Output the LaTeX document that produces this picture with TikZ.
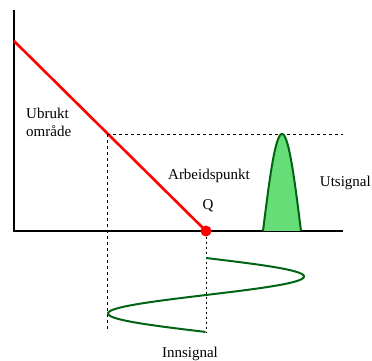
\documentclass[tikz,border=0pt]{standalone}
\usepackage{fontspec}
\setmainfont{Liberation Serif}
\usetikzlibrary{positioning,calc}
\definecolor{sigdark}{RGB}{0,100,20}
\definecolor{sigfill}{RGB}{102,221,119}
\definecolor{qred}{RGB}{255,0,0}

\begin{document}
\begin{tikzpicture}[
    x=1pt, y=-1pt,
    font=\fontsize{15}{18}\selectfont,
    axis/.style={black, line width=1.3pt},
    load/.style={qred, line width=2.6pt},
    guide/.style={black, line width=0.9pt, dash pattern=on 3pt off 3pt},
    guidedot/.style={black, line width=1pt, dash pattern=on 2pt off 3pt},
    signal/.style={sigdark, line width=2pt},
    lbl/.style={inner sep=0pt},
]
  \useasboundingbox (0,0) rectangle (372,361);
  %% axes
  \coordinate (o) at (14,231);
  \coordinate (ytop) at (14,10);
  \coordinate (xend) at (343,231);
  \draw[axis] (ytop) -- (o) -- (xend);
  %% load line and working point
  \coordinate (lstart) at (14,41);
  \node[circle, fill=qred, inner sep=0pt, minimum size=11pt] (q) at (206,231) {};
  \draw[load] (lstart) -- (q.center);
  %% guide lines
  \coordinate (hit) at (107,134);
  \coordinate (hend) at (343,134);
  \coordinate (lbot) at (107,332);
  \coordinate (qbot) at (206,332);
  \draw[guide] (hit) -- (hend);
  \draw[guide] (hit) -- (lbot);
  \draw[guidedot] (q.south) -- (qbot);
  %% input signal
  \draw[signal, domain=0:1, samples=80, smooth, variable=\t]
    plot ({206+98*sin(360*\t)}, {258+74*\t});
  %% output signal
  \filldraw[signal, fill=sigfill, domain=0:1, samples=50, smooth, variable=\t]
    plot ({263+38*\t}, {231-97*sin(180*\t)});
  %% labels
  \node[lbl, anchor=west, align=left] (unused) at (26,122) {Ubrukt\\område};
  \node[lbl] (arb) at (209,176) {Arbeidspunkt};
  \node[lbl] (qlbl) at (208,206) {Q};
  \node[lbl, anchor=east] (ut) at (371,183) {Utsignal};
  \node[lbl] (inn) at (190,354) {Innsignal};
\end{tikzpicture}
\end{document}
